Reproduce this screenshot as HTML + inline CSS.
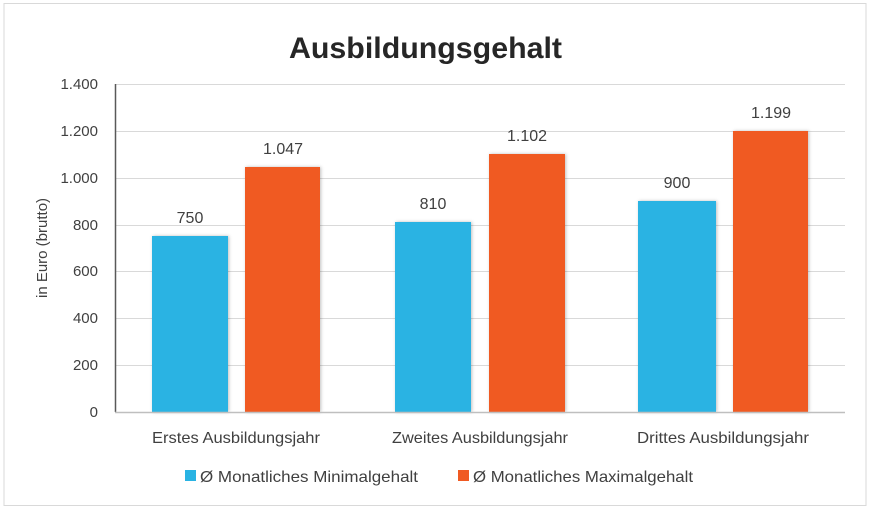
<!DOCTYPE html>
<html><head><meta charset="utf-8"><style>
html,body{margin:0;padding:0;background:#fff;}
svg{display:block;font-family:"Liberation Sans",sans-serif;}
</style></head><body>
<svg width="871" height="510" viewBox="0 0 871 510" xmlns="http://www.w3.org/2000/svg">
<defs>
<filter id="sh" x="-20%" y="-5%" width="140%" height="110%"><feDropShadow dx="1" dy="0" stdDeviation="1.5" flood-color="#000" flood-opacity="0.25"/></filter>
</defs>
<rect x="4" y="3.5" width="862" height="502" fill="#fff" stroke="#d9d9d9" stroke-width="1"/>
<text x="289" y="58" font-size="30" font-weight="bold" fill="#262626" textLength="273" lengthAdjust="spacingAndGlyphs">Ausbildungsgehalt</text>
<g stroke="#d9d9d9" stroke-width="1">
<line x1="115" y1="84.5" x2="845" y2="84.5"/>
<line x1="115" y1="131.5" x2="845" y2="131.5"/>
<line x1="115" y1="178.5" x2="845" y2="178.5"/>
<line x1="115" y1="225.5" x2="845" y2="225.5"/>
<line x1="115" y1="271.5" x2="845" y2="271.5"/>
<line x1="115" y1="318.5" x2="845" y2="318.5"/>
<line x1="115" y1="365.5" x2="845" y2="365.5"/>
</g>
<g font-size="15" fill="#404040" text-anchor="end">
<text x="98" y="89">1.400</text>
<text x="98" y="136">1.200</text>
<text x="98" y="183">1.000</text>
<text x="98" y="230">800</text>
<text x="98" y="276">600</text>
<text x="98" y="323">400</text>
<text x="98" y="370">200</text>
<text x="98" y="417">0</text>
</g>
<text transform="translate(47,248) rotate(-90)" text-anchor="middle" font-size="15" fill="#404040">in Euro (brutto)</text>
<g filter="url(#sh)">
<rect x="152" y="236" width="76" height="176" fill="#29b3e3"/>
<rect x="245" y="167" width="75" height="245" fill="#f05a22"/>
<rect x="395" y="222" width="76" height="190" fill="#29b3e3"/>
<rect x="489" y="154" width="76" height="258" fill="#f05a22"/>
<rect x="638" y="201" width="78" height="211" fill="#29b3e3"/>
<rect x="733" y="131" width="75" height="281" fill="#f05a22"/>
</g>
<line x1="115.5" y1="84" x2="115.5" y2="412" stroke="#595959" stroke-width="1.5"/>
<line x1="115" y1="412.5" x2="845" y2="412.5" stroke="#bfbfbf" stroke-width="1.5"/>
<g font-size="16" fill="#404040" text-anchor="middle">
<text x="190" y="223">750</text>
<text x="283" y="154">1.047</text>
<text x="433" y="209">810</text>
<text x="527" y="141">1.102</text>
<text x="677" y="188">900</text>
<text x="771" y="118">1.199</text>
</g>
<g font-size="16" fill="#404040">
<text x="152" y="443" textLength="168" lengthAdjust="spacingAndGlyphs">Erstes Ausbildungsjahr</text>
<text x="392" y="443" textLength="176" lengthAdjust="spacingAndGlyphs">Zweites Ausbildungsjahr</text>
<text x="637" y="443" textLength="172" lengthAdjust="spacingAndGlyphs">Drittes Ausbildungsjahr</text>
</g>
<rect x="185" y="470" width="11" height="11" fill="#29b3e3"/>
<text x="200" y="482" font-size="16" fill="#404040" textLength="218" lengthAdjust="spacingAndGlyphs">Ø Monatliches Minimalgehalt</text>
<rect x="458" y="470" width="11" height="11" fill="#f05a22"/>
<text x="473" y="482" font-size="16" fill="#404040" textLength="220" lengthAdjust="spacingAndGlyphs">Ø Monatliches Maximalgehalt</text>
</svg>
</body></html>
